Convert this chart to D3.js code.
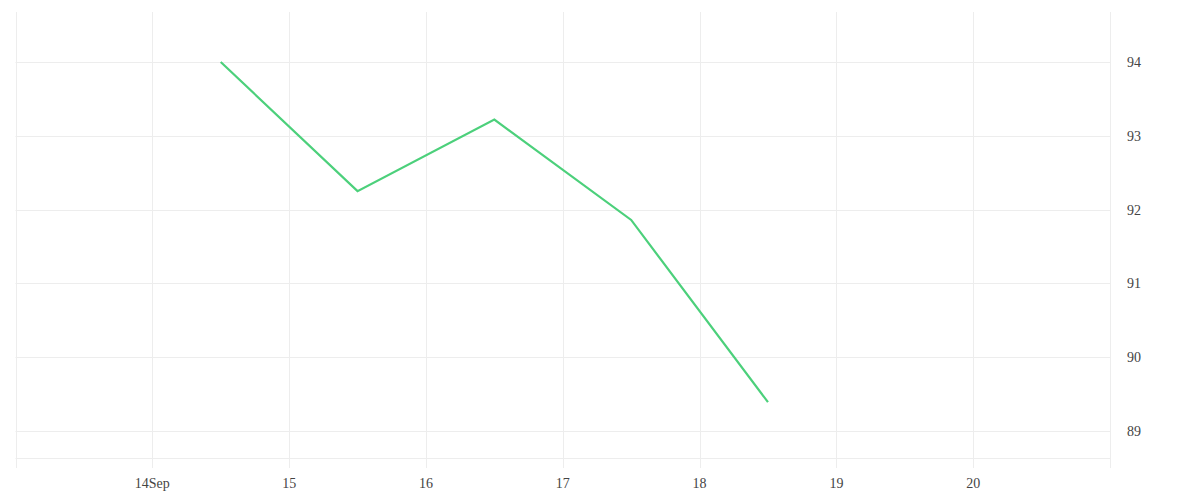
<!DOCTYPE html>
<html>
<head>
<meta charset="utf-8">
<script src="https://cdn.jsdelivr.net/npm/d3@7"></script>
<style>
  body { margin: 0; background: #fff; }
  svg text { font-family: "Liberation Serif", "DejaVu Serif", serif; fill: #444; }
</style>
</head>
<body>
<svg id="chart" width="1200" height="500"></svg>
<script>
// data (points sit at noon of each day)
const dates = ["2020-09-14T12:00", "2020-09-15T12:00", "2020-09-16T12:00", "2020-09-17T12:00", "2020-09-18T12:00"];
const values = [94.0, 92.25, 93.22, 91.86, 89.39];
const xTickDays = ["2020-09-14", "2020-09-15", "2020-09-16", "2020-09-17", "2020-09-18", "2020-09-19", "2020-09-20"];
const yTicks = [89, 90, 91, 92, 93, 94];

const svg = d3.select("#chart");
const margin = { top: 12, right: 90, bottom: 42, left: 15.5 };
const width = 1200, height = 500;

const parse = d3.timeParse("%Y-%m-%dT%H:%M");
const parseDay = d3.timeParse("%Y-%m-%d");
const data = dates.map((d, i) => ({ date: parse(d), value: values[i] }));

const x = d3.scaleTime()
  .domain([parseDay("2020-09-13"), parseDay("2020-09-21")])
  .range([margin.left, width - margin.right]);

const y = d3.scaleLinear()
  .domain([88.634, 94.678])
  .range([height - margin.bottom, margin.top]);

const grid = "#ededed";
const bottom = height - margin.bottom;

// vertical grid: plot edges + day ticks, drawn a bit past the bottom
const vLines = [x.domain()[0], ...xTickDays.map(parseDay), x.domain()[1]];
svg.append("g")
  .selectAll("line")
  .data(vLines)
  .join("line")
  .attr("x1", d => Math.round(x(d)) + 0.5)
  .attr("x2", d => Math.round(x(d)) + 0.5)
  .attr("y1", margin.top)
  .attr("y2", bottom + 10)
  .attr("stroke", grid);

// horizontal grid + bottom edge
svg.append("g")
  .selectAll("line")
  .data([...yTicks, y.domain()[0]])
  .join("line")
  .attr("x1", margin.left)
  .attr("x2", width - margin.right)
  .attr("y1", d => Math.round(y(d)) + 0.5)
  .attr("y2", d => Math.round(y(d)) + 0.5)
  .attr("stroke", grid);

// x labels
const fmtDay = d => d.getDate() === 14 ? d.getDate() + "Sep" : String(d.getDate());
svg.append("g")
  .selectAll("text")
  .data(xTickDays.map(parseDay))
  .join("text")
  .attr("x", d => x(d))
  .attr("y", bottom + 30)
  .attr("text-anchor", "middle")
  .style("font-size", "14px")
  .text(fmtDay);

// y labels on the right
svg.append("g")
  .selectAll("text")
  .data(yTicks)
  .join("text")
  .attr("x", width - margin.right + 17)
  .attr("y", d => y(d))
  .attr("dy", "0.35em")
  .style("font-size", "14px")
  .text(d => d);

// the line
const line = d3.line()
  .x(d => x(d.date))
  .y(d => y(d.value));

svg.append("path")
  .datum(data)
  .attr("fill", "none")
  .attr("stroke", "#4cd07b")
  .attr("stroke-width", 2.2)
  .attr("d", line);
</script>
</body>
</html>
